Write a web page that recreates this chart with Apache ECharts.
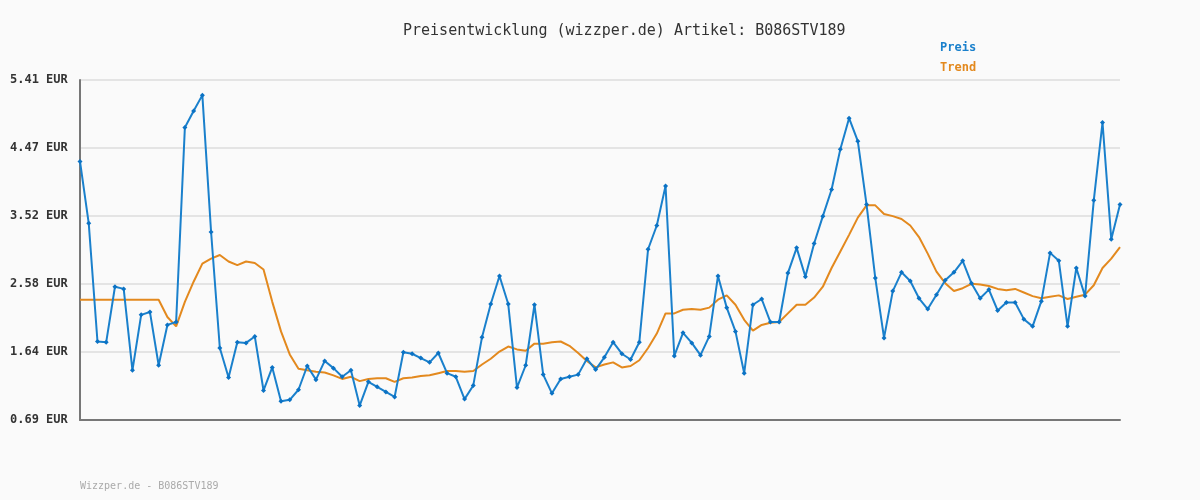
<!DOCTYPE html>
<html>
<head>
<meta charset="utf-8">
<script src="https://cdn.jsdelivr.net/npm/echarts@6/dist/echarts.min.js"></script>
<style>html,body{margin:0;padding:0;background:#fafafa;}#c{width:1200px;height:500px;}</style>
</head>
<body>
<div id="c"></div>
<script>
const titleText = 'Preisentwicklung (wizzper.de) Artikel: B086STV189';
const footerText = 'Wizzper.de - B086STV189';
const seriesNames = ['Preis', 'Trend'];
const yTicks = [0.69, 1.64, 2.58, 3.52, 4.47, 5.41];
const yMin = 0.69;
const yMax = 5.41;

const preis = [
  4.28, 3.42, 1.78, 1.77, 2.54, 2.51, 1.38, 2.15, 2.19, 1.45,
  2.01, 2.05, 4.75, 4.98, 5.20, 3.30, 1.69, 1.28, 1.77, 1.76,
  1.85, 1.10, 1.42, 0.95, 0.97, 1.11, 1.44, 1.25, 1.51, 1.41,
  1.29, 1.38, 0.89, 1.22, 1.15, 1.08, 1.01, 1.63, 1.61, 1.55,
  1.49, 1.62, 1.34, 1.29, 0.98, 1.17, 1.84, 2.30, 2.69, 2.30,
  1.14, 1.45, 2.29, 1.32, 1.06, 1.26, 1.29, 1.32, 1.54, 1.39,
  1.56, 1.77, 1.61, 1.53, 1.77, 3.06, 3.39, 3.94, 1.58, 1.90,
  1.76, 1.59, 1.85, 2.69, 2.25, 1.92, 1.34, 2.29, 2.37, 2.05,
  2.05, 2.73, 3.08, 2.68, 3.14, 3.52, 3.89, 4.45, 4.88, 4.56,
  3.68, 2.66, 1.83, 2.48, 2.74, 2.62, 2.38, 2.23, 2.43, 2.63,
  2.74, 2.90, 2.59, 2.38, 2.50, 2.21, 2.32, 2.32, 2.09, 1.99,
  2.34, 3.01, 2.90, 1.99, 2.80, 2.41, 3.74, 4.82, 3.20, 3.68
];

const trend = [
  2.36, 2.36, 2.36, 2.36, 2.36, 2.36, 2.36, 2.36, 2.36, 2.36,
  2.12, 1.99, 2.33, 2.61, 2.86, 2.93, 2.98, 2.89, 2.84, 2.89,
  2.87, 2.78, 2.33, 1.92, 1.60, 1.40, 1.38, 1.36, 1.35, 1.31,
  1.26, 1.29, 1.23, 1.26, 1.27, 1.27, 1.22, 1.27, 1.28, 1.30,
  1.31, 1.34, 1.37, 1.37, 1.36, 1.37, 1.46, 1.54, 1.64, 1.71,
  1.67, 1.65, 1.75, 1.75, 1.77, 1.78, 1.72, 1.62, 1.51, 1.42,
  1.46, 1.49, 1.42, 1.44, 1.52, 1.69, 1.89, 2.17, 2.17, 2.22,
  2.23, 2.22, 2.25, 2.36, 2.42, 2.29, 2.08, 1.93, 2.01, 2.04,
  2.05, 2.17, 2.29, 2.29, 2.39, 2.54, 2.80, 3.03, 3.26, 3.50,
  3.67, 3.67, 3.55, 3.52, 3.48, 3.39, 3.23, 3.00, 2.75, 2.59,
  2.48, 2.52, 2.58, 2.57, 2.55, 2.51, 2.49, 2.51, 2.46, 2.41,
  2.38, 2.40, 2.42, 2.37, 2.40, 2.43, 2.56, 2.80, 2.93, 3.09
];

const categories = preis.map((_, i) => String(i + 1));

const blue = '#1a80cc';
const orange = '#e3891e';
const mono = '"DejaVu Sans Mono", "Liberation Mono", monospace';

const chart = echarts.init(document.getElementById('c'), null, {renderer: 'canvas'});
chart.setOption({
  backgroundColor: '#fafafa',
  animation: false,
  title: {
    text: titleText,
    left: 398,
    top: 19,
    textStyle: {fontFamily: mono, fontSize: 15, fontWeight: 'normal', color: '#333'}
  },
  legend: {
    orient: 'vertical',
    left: 935,
    top: 37,
    itemWidth: 0,
    itemHeight: 0,
    itemGap: 8,
    icon: 'rect',
    data: [
      {name: seriesNames[0], textStyle: {color: blue}},
      {name: seriesNames[1], textStyle: {color: orange}}
    ],
    textStyle: {fontFamily: mono, fontSize: 12, fontWeight: 'bold', padding: [0, 0, 0, -5]}
  },
  graphic: [{
    type: 'text',
    left: 80,
    top: 481,
    style: {text: footerText, fill: '#aaa', font: '10px ' + mono}
  }],
  grid: {left: 80, right: 80, top: 80, bottom: 80, containLabel: false},
  xAxis: {
    type: 'category',
    data: categories,
    boundaryGap: false,
    axisLine: {show: true, lineStyle: {color: '#777', width: 2}},
    axisTick: {show: false},
    axisLabel: {show: false},
    splitLine: {show: false}
  },
  yAxis: {
    type: 'value',
    min: yMin,
    max: yMax,
    axisLine: {show: true, lineStyle: {color: '#777', width: 2}},
    axisTick: {show: false, customValues: yTicks},
    axisLabel: {
      customValues: yTicks,
      align: 'left',
      margin: 70,
      fontFamily: mono,
      fontSize: 12,
      fontWeight: 'bold',
      color: '#333',
      formatter: v => v.toFixed(2) + ' EUR'
    },
    splitLine: {show: true, lineStyle: {color: '#e4e4e4', width: 2}}
  },
  series: [
    {
      name: seriesNames[0],
      type: 'line',
      data: preis,
      color: blue,
      lineStyle: {width: 2, color: blue},
      symbol: 'diamond',
      symbolSize: 5,
      itemStyle: {color: '#0b72c4'},
      z: 3
    },
    {
      name: seriesNames[1],
      type: 'line',
      data: trend,
      color: orange,
      lineStyle: {width: 2, color: orange},
      symbol: 'none',
      z: 2
    }
  ]
});
</script>
</body>
</html>
